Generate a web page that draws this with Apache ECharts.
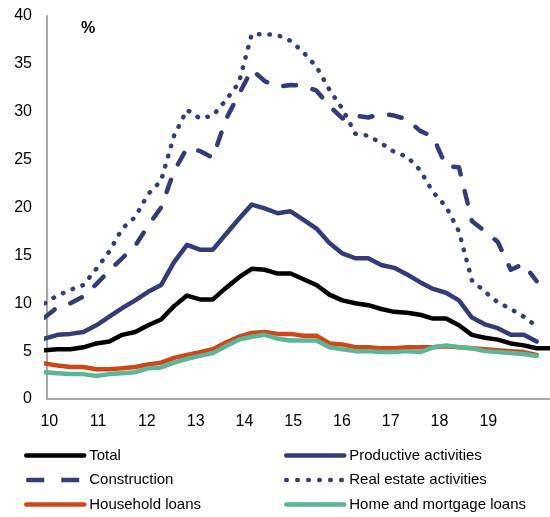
<!DOCTYPE html>
<html>
<head>
<meta charset="utf-8">
<script src="https://cdn.jsdelivr.net/npm/echarts@6/dist/echarts.min.js"></script>
<style>
html,body{margin:0;padding:0;background:#fff;}
#chart{width:550px;height:517px;}
</style>
</head>
<body>
<div id="chart"></div>
<script>
// Year tick labels shown under the x axis
var yearLabels = ['10','11','12','13','14','15','16','17','18','19'];

// Series values, one value per period
var total = [5.1,5.2,5.2,5.4,5.8,6.0,6.7,7.0,7.7,8.3,9.7,10.8,10.4,10.4,11.6,12.7,13.6,13.5,13.1,13.1,12.5,11.9,10.9,10.3,10.0,9.8,9.4,9.1,9.0,8.8,8.4,8.4,7.7,6.7,6.4,6.2,5.8,5.6,5.3,5.3];
var productive = [6.3,6.7,6.8,7.0,7.7,8.6,9.5,10.3,11.2,11.9,14.3,16.1,15.6,15.6,17.2,18.8,20.3,19.9,19.4,19.6,18.7,17.8,16.3,15.2,14.7,14.7,14.0,13.7,13.0,12.2,11.5,11.1,10.3,8.5,7.8,7.4,6.7,6.7,6.0];
var construction = [8.5,9.6,10.0,10.7,12.0,13.4,14.7,16.0,18.1,20.0,23.8,26.2,25.9,25.2,29.2,31.8,34.4,33.2,32.6,32.8,32.7,32.2,30.6,29.3,29.6,29.4,29.8,29.6,29.2,28.0,27.4,24.3,24.2,18.6,17.5,16.4,13.5,14.1,12.3];
var realEstate = [10.0,10.8,11.4,11.9,13.6,15.4,17.8,19.0,21.4,22.8,27.5,30.2,29.3,29.6,31.2,33.0,38.1,38.1,38.0,37.4,36.2,34.7,32.3,30.3,27.7,27.5,26.7,25.8,25.3,23.9,21.6,20.1,17.5,12.4,11.2,10.1,9.4,8.6,7.6];
var household = [3.7,3.5,3.35,3.35,3.1,3.1,3.2,3.35,3.6,3.8,4.3,4.6,4.9,5.2,5.9,6.5,6.9,7.0,6.8,6.8,6.6,6.6,5.8,5.7,5.4,5.4,5.3,5.3,5.4,5.4,5.4,5.5,5.4,5.3,5.2,5.1,5.0,4.9,4.6];
var homeMortgage = [2.8,2.7,2.6,2.6,2.4,2.6,2.7,2.8,3.2,3.3,3.8,4.2,4.5,4.8,5.5,6.2,6.5,6.7,6.3,6.1,6.1,6.1,5.4,5.2,5.0,5.0,4.9,4.9,5.0,4.9,5.4,5.6,5.4,5.3,5.0,4.9,4.8,4.7,4.5];

var seriesNames = ['Total','Productive activities','Construction','Real estate activities','Household loans','Home and mortgage loans'];

var NAVY = '#323C78', RED = '#CF4716', GREEN = '#5BB596', BLACK = '#000000';
var LW = 4.5;
var DASH = [13, 17], DOT = [0.5, 10];

function pairs(arr){ return arr.map(function(v,i){ return [i, v]; }); }

function lineSeries(name, values, color, type){
  return {
    name: name, type: 'line', data: pairs(values),
    xAxisIndex: 0, yAxisIndex: 0,
    symbol: 'none', smooth: false, animation: false,
    lineStyle: { color: color, width: LW, type: type || 'solid', cap: 'round', join: 'round' },
    itemStyle: { color: color }
  };
}

function legendItem(name, color, type, cap){
  return { name: name,
    itemStyle: { opacity: 0 },
    lineStyle: { color: color, width: LW, type: type || 'solid', cap: cap || 'round' } };
}

var chart = echarts.init(document.getElementById('chart'), null, {renderer: 'canvas'});
var legendText = { fontFamily: 'Liberation Sans Narrow, Arial Narrow, Liberation Sans, Arial, sans-serif', fontSize: 15, color: '#000' };
var legendBase = { orient: 'vertical', top: 448, padding: 0, itemWidth: 58, itemHeight: 16, itemGap: 9.5,
  textStyle: legendText, selectedMode: false };

chart.setOption({
  animation: false,
  title: {
    text: '%', left: 81, top: 21, padding: 0,
    textStyle: { fontFamily: 'Liberation Sans, Arial, sans-serif', fontSize: 16, fontWeight: 'bold', color: '#000' }
  },
  grid: [
    { left: 47, right: 0.4, top: 16, bottom: 118, containLabel: false },
    { left: 49.3, right: 61.7, top: 16, bottom: 118, containLabel: false }
  ],
  xAxis: [
    { type: 'value', gridIndex: 0, min: 0.19, max: 39,
      axisLine: { show: true, lineStyle: { color: '#A6A6A6', width: 2 } },
      axisTick: { show: false }, axisLabel: { show: false }, splitLine: { show: false } },
    { type: 'category', gridIndex: 1, data: yearLabels, boundaryGap: false,
      axisLine: { show: false }, axisTick: { show: false }, splitLine: { show: false },
      axisLabel: { interval: 0, margin: 15, fontFamily: 'Liberation Sans, Arial, sans-serif', fontSize: 16, color: '#000' } }
  ],
  yAxis: [
    { type: 'value', gridIndex: 0, min: 0, max: 40, interval: 5,
      axisLine: { show: true, lineStyle: { color: '#A6A6A6', width: 2 } },
      axisTick: { show: false }, splitLine: { show: false },
      axisLabel: { margin: 15, fontFamily: 'Liberation Sans, Arial, sans-serif', fontSize: 16, color: '#000' } },
    { type: 'value', gridIndex: 1, show: false, min: 0, max: 40 }
  ],
  legend: [
    Object.assign({}, legendBase, { left: 24, data: [
      legendItem(seriesNames[0], BLACK),
      legendItem(seriesNames[2], NAVY, [18, 17], 'butt'),
      legendItem(seriesNames[4], RED)
    ]}),
    Object.assign({}, legendBase, { left: 284, data: [
      legendItem(seriesNames[1], NAVY),
      legendItem(seriesNames[3], NAVY, [0.5, 10.5], 'round'),
      legendItem(seriesNames[5], GREEN)
    ]})
  ],
  series: [
    lineSeries(seriesNames[1], productive, NAVY),
    lineSeries(seriesNames[2], construction, NAVY, DASH),
    lineSeries(seriesNames[3], realEstate, NAVY, DOT),
    lineSeries(seriesNames[0], total, BLACK),
    lineSeries(seriesNames[4], household, RED),
    lineSeries(seriesNames[5], homeMortgage, GREEN)
  ]
});
</script>
</body>
</html>
